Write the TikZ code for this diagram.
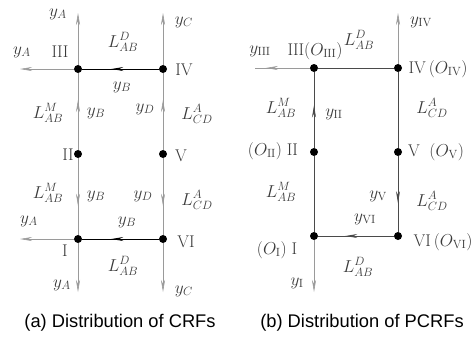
\documentclass[tikz,border=0pt]{standalone}
\usepackage{fontspec}
\newfontfamily\capfont{Liberation Sans}
\usetikzlibrary{arrows.meta,decorations.markings}
\definecolor{linegray}{HTML}{9A9A9A}
\definecolor{darkline}{HTML}{4A4A4A}
\definecolor{txtgray}{HTML}{3A3A3A}
\tikzset{
  vtx/.style={circle, fill=black, inner sep=0pt, minimum size=8pt},
  lbl/.style={text=txtgray, inner sep=1pt, font=\fontsize{17}{19}\selectfont},
  captext/.style={text=black, inner sep=0pt, font=\capfont\fontsize{18.3}{20}\selectfont},
  endarr/.style={-{Stealth[length=12pt,width=4pt]}},
  midarr/.style={decoration={markings, mark=at position #1 with {\arrow{Stealth[length=12pt,width=4pt]}}}, postaction={decorate}},
}
\begin{document}
\begin{tikzpicture}[x=1pt, y=-1pt]
\useasboundingbox (0,0) rectangle (471,341);

% (a) CRFs
\node[vtx] (a3) at (78,69) {};
\node[vtx] (a4) at (163,69) {};
\node[vtx] (a2) at (78,154) {};
\node[vtx] (a5) at (163,154) {};
\node[vtx] (a1) at (78,239) {};
\node[vtx] (a6) at (163,239) {};
\coordinate (a3t) at (78,13);
\coordinate (a4t) at (163,13);
\coordinate (a3l) at (20,69);
\coordinate (a1l) at (20,239);
\coordinate (a1b) at (78,292);
\coordinate (a6b) at (163,292);

\begin{scope}[draw=linegray, fill=linegray, line width=0.6pt]
\draw[endarr] (a3) -- (a3t);
\draw[endarr] (a4) -- (a4t);
\draw[endarr] (a3) -- (a3l);
\draw[endarr] (a1) -- (a1l);
\draw[endarr] (a1) -- (a1b);
\draw[endarr] (a6) -- (a6b);
\draw[midarr=0.65] (a2) -- (a3);
\draw[midarr=0.65] (a5) -- (a4);
\draw[midarr=0.62] (a2) -- (a1);
\draw[midarr=0.62] (a5) -- (a6);
\end{scope}
\draw[line width=1pt, midarr=0.62] (a4) -- (a3);
\draw[line width=1pt, midarr=0.62] (a6) -- (a1);

\node[lbl] (ya1) at (58,14) {$y_A$};
\node[lbl] (yc1) at (184,22) {$y_C$};
\node[lbl] (r3) at (60,52) {$\mathrm{III}$};
\node[lbl] (ld1) at (123,42) {$L_{AB}^{D}$};
\node[lbl] (ya2) at (22,52) {$y_A$};
\node[lbl] (r4) at (184,70) {$\mathrm{IV}$};
\node[lbl] (yb1) at (122,87) {$y_B$};
\node[lbl] (lm1) at (48,113) {$L_{AB}^{M}$};
\node[lbl] (yb2) at (96,113) {$y_B$};
\node[lbl] (yd1) at (145,109) {$y_D$};
\node[lbl] (la1) at (197,114) {$L_{CD}^{A}$};
\node[lbl] (r2) at (68,155) {$\mathrm{II}$};
\node[lbl] (r5) at (181,156) {$\mathrm{V}$};
\node[lbl] (lm2) at (48,193) {$L_{AB}^{M}$};
\node[lbl] (yb3) at (96,196) {$y_B$};
\node[lbl] (yd2) at (143,196) {$y_D$};
\node[lbl] (la2) at (197,200) {$L_{CD}^{A}$};
\node[lbl] (ya3) at (29,221) {$y_A$};
\node[lbl] (yb4) at (127,222) {$y_B$};
\node[lbl] (r1) at (65,251) {$\mathrm{I}$};
\node[lbl] (r6) at (186,242) {$\mathrm{VI}$};
\node[lbl] (ld2) at (123,266) {$L_{AB}^{D}$};
\node[lbl] (ya4) at (62,285) {$y_A$};
\node[lbl] (yc2) at (184,291) {$y_C$};
\node[captext] (capa) at (120,323) {(a) Distribution of CRFs};

% (b) PCRFs
\node[vtx] (b3) at (314,68) {};
\node[vtx] (b4) at (398,68) {};
\node[vtx] (b2) at (314,152) {};
\node[vtx] (b5) at (398,152) {};
\node[vtx] (b1) at (314,236) {};
\node[vtx] (b6) at (398,236) {};
\coordinate (b4t) at (398,13);
\coordinate (b3l) at (255,68);
\coordinate (b1b) at (314,292);

\begin{scope}[draw=linegray, fill=linegray, line width=0.6pt]
\draw[endarr] (b4) -- (b4t);
\draw[midarr=0.8] (b3) -- (b3l);
\draw[endarr] (b1) -- (b1b);
\end{scope}
\begin{scope}[draw=darkline, fill=linegray, line width=0.8pt]
\draw (b3) -- (b4);
\draw (b4) -- (b5);
\draw (b2) -- (b1);
\draw[midarr=0.56] (b2) -- (b3);
\draw[midarr=0.62] (b5) -- (b6);
\draw[midarr=0.64] (b6) -- (b1);
\end{scope}

\node[lbl] (yiv) at (421,22) {$y_{\mathrm{IV}}$};
\node[lbl] (yiii) at (260,51) {$y_{\mathrm{III}}$};
\node[lbl] (s3) at (315,51) {$\mathrm{III}(O_{\mathrm{III}})$};
\node[lbl] (ld3) at (359,40) {$L_{AB}^{D}$};
\node[lbl] (s4) at (438,69) {$\mathrm{IV}\,(O_{\mathrm{IV}})$};
\node[lbl] (lm3) at (281,108) {$L_{AB}^{M}$};
\node[lbl] (yii) at (334,114) {$y_{\mathrm{II}}$};
\node[lbl] (la3) at (432,108) {$L_{CD}^{A}$};
\node[lbl] (s2) at (273,151) {$(O_{\mathrm{II}})\;\mathrm{II}$};
\node[lbl] (s5) at (436,152) {$\mathrm{V}\;\;(O_{\mathrm{V}})$};
\node[lbl] (lm4) at (281,192) {$L_{AB}^{M}$};
\node[lbl] (yv) at (378,196) {$y_{\mathrm{V}}$};
\node[lbl] (la4) at (432,201) {$L_{CD}^{A}$};
\node[lbl] (yvi) at (365,219) {$y_{\mathrm{VI}}$};
\node[lbl] (s1) at (277,250) {$(O_{\mathrm{I}})\;\mathrm{I}$};
\node[lbl] (s6) at (443,242) {$\mathrm{VI}\,(O_{\mathrm{VI}})$};
\node[lbl] (ld4) at (358,267) {$L_{AB}^{D}$};
\node[lbl] (yi) at (297,283) {$y_{\mathrm{I}}$};
\node[captext] (capb) at (362,323) {(b) Distribution of PCRFs};
\end{tikzpicture}
\end{document}
